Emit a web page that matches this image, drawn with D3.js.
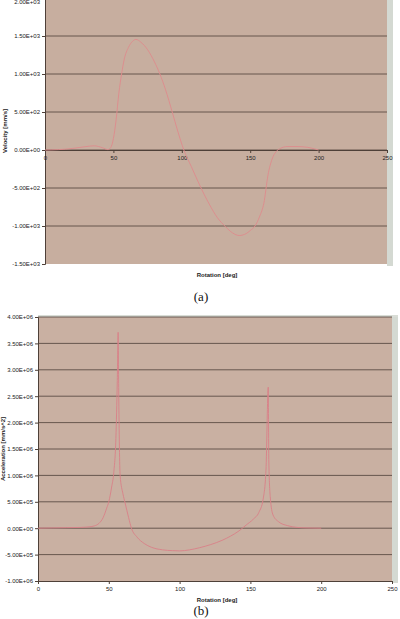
<!DOCTYPE html>
<html>
<head>
<meta charset="utf-8">
<script src="https://cdn.jsdelivr.net/npm/d3@7"></script>
<style>
  html, body { margin: 0; padding: 0; background: #fff; }
  svg { display: block; }
  .tick text { font-family: "Liberation Sans", Arial, sans-serif; }
  .caption { font-family: "Liberation Serif", "Times New Roman", serif; }
</style>
</head>
<body>
<svg id="chart" width="400" height="619"></svg>
<script>
// Velocity / acceleration vs. rotation (two stacked panels)

var xTicks = [0, 50, 100, 150, 200, 250];

// (a) velocity [mm/s]
var velDeg = [0, 10, 20, 30, 36, 42, 46, 48, 50, 52, 54, 56, 58, 61, 64, 66.5, 70, 75, 80, 84, 88, 93, 97, 101.5,
              107, 113, 120, 126, 132, 137, 142, 147, 150, 153.5, 157, 160, 163, 166, 169, 172, 177, 185, 192, 197, 200];
var velVal = [0, 5, 20, 45, 55, 30, 5, 30, 150, 400, 750, 1000, 1200, 1350, 1430, 1455, 1420, 1320, 1160, 1000, 800, 500, 250, 0,
              -220, -460, -710, -890, -1010, -1090, -1125, -1100, -1060, -1000, -870, -700, -330, -120, -20, 20, 45, 45, 35, 15, 0];
var velTicks = [-1500, -1000, -500, 0, 500, 1000, 1500, 2000];

// (b) acceleration [mm/s^2]
var accDeg = [0, 10, 20, 30, 36, 40, 43, 46, 48.5, 50, 52, 53.5, 55, 56, 56.6, 57, 58, 60, 61.5, 64, 66, 70, 75, 80, 88, 95, 100,
              107, 114, 122, 130, 136, 142, 147, 152, 156, 159, 161, 162.6, 163, 164, 166, 170, 176, 183, 190, 200];
var accVal = [0, 5000, 10000, 15000, 25000, 45000, 90000, 200000, 380000, 500000, 780000, 1050000, 1700000, 2800000, 3710000,
              2600000, 1000000, 650000, 480000, 200000, 0, -170000, -290000, -360000, -410000, -425000, -430000,
              -410000, -370000, -310000, -230000, -150000, -50000, 60000, 170000, 300000, 550000, 1100000, 2670000,
              1300000, 600000, 250000, 120000, 50000, 15000, 5000, 0];
var accTicks = [-1000000, -500000, 0, 500000, 1000000, 1500000, 2000000, 2500000, 3000000, 3500000, 4000000];

var svg = d3.select("#chart");
var sci = function (v) {
  var s = v.toExponential(2).toUpperCase();          // 1.50E+3
  return s.replace(/E([+-])(\d)$/, "E$10$2");         // 1.50E+03
};

var drawPanel = function (opt) {
  var x = d3.scaleLinear().domain([0, 250]).range([opt.left, opt.right]);
  var y = d3.scaleLinear().domain(opt.yDomain).range([opt.bottom, opt.top]);
  var g = svg.append("g");

  // frame strips round the plot
  g.append("rect").attr("x", opt.right).attr("y", opt.top - 2)
    .attr("width", 6).attr("height", opt.bottom - opt.top + 4).attr("fill", "#d4d9d2");
  if (opt.top > 0)
    g.append("rect").attr("x", opt.left).attr("y", opt.top - 2)
      .attr("width", opt.right - opt.left + 6).attr("height", 2).attr("fill", "#d9ddd6");

  g.append("rect").attr("x", opt.left).attr("y", Math.max(opt.top, 0))
    .attr("width", opt.right - opt.left).attr("height", opt.bottom - Math.max(opt.top, 0))
    .attr("fill", opt.bg);

  // horizontal gridlines
  g.selectAll("line.grid").data(opt.yTicks.filter(function (d) { return d !== opt.yDomain[0]; }))
    .enter().append("line").attr("class", "grid")
    .attr("x1", opt.left).attr("x2", opt.right)
    .attr("y1", function (d) { return y(d); }).attr("y2", function (d) { return y(d); })
    .attr("stroke", "#4e4038").attr("stroke-width", 0.8);

  // y axis
  var ya = g.append("g").attr("transform", "translate(" + opt.left + ",0)")
    .call(d3.axisLeft(y).tickValues(opt.yTicks).tickFormat(sci).tickSize(3).tickPadding(2));
  ya.select(".domain").attr("stroke", "#4e4038");
  ya.selectAll(".tick line").attr("stroke", "#4e4038");
  ya.selectAll(".tick text").attr("font-size", 6).attr("fill", "#222");
  // keep a label that would fall off the top edge just inside it
  ya.selectAll(".tick text").filter(function (d) { return y(d) < 3; })
    .attr("dy", function (d) { return (3.5 - y(d)) + "px"; });

  // x axis (on the zero line)
  var xa = g.append("g").attr("transform", "translate(0," + y(opt.xAxisAt) + ")")
    .call(d3.axisBottom(x).tickValues(xTicks).tickSize(3).tickPadding(3));
  xa.select(".domain").attr("stroke", "#4e4038");
  xa.selectAll(".tick line").attr("stroke", "#4e4038");
  xa.selectAll(".tick text").attr("font-size", 6).attr("fill", "#222");

  // the curve
  var line = d3.line()
    .x(function (d) { return x(d[0]); })
    .y(function (d) { return y(d[1]); })
    .curve(d3.curveMonotoneX);
  g.append("path").datum(d3.zip(opt.xs, opt.ys))
    .attr("d", line).attr("fill", "none")
    .attr("stroke", opt.lineColor).attr("stroke-width", 0.9);

  // axis titles
  g.append("text").attr("x", opt.xTitle[0]).attr("y", opt.xTitle[1])
    .attr("text-anchor", "middle").attr("font-family", "Liberation Sans, Arial, sans-serif")
    .attr("font-size", 6).attr("font-weight", "bold").attr("fill", "#222").text("Rotation [deg]");
  g.append("text")
    .attr("transform", "translate(" + opt.yTitle[0] + "," + opt.yTitle[1] + ") rotate(-90)")
    .attr("text-anchor", "middle").attr("font-family", "Liberation Sans, Arial, sans-serif")
    .attr("font-size", 6).attr("font-weight", "bold").attr("fill", "#222").text(opt.yLabel);

  svg.append("text").attr("class", "caption").attr("x", opt.caption[0]).attr("y", opt.caption[1])
    .attr("text-anchor", "middle").attr("font-size", 13).attr("fill", "#111").text(opt.captionText);
};

drawPanel({
  left: 45, right: 387, top: -2, bottom: 264,
  yDomain: [-1500, 2000], yTicks: velTicks, xAxisAt: 0,
  xs: velDeg, ys: velVal, bg: "#c7ae9f", lineColor: "#df8a8c",
  yLabel: "Velocity [mm/s]", xTitle: [217, 277], yTitle: [7, 131],
  caption: [201, 301], captionText: "(a)"
});

drawPanel({
  left: 38, right: 392, top: 317, bottom: 581,
  yDomain: [-1000000, 4000000], yTicks: accTicks, xAxisAt: -1000000,
  xs: accDeg, ys: accVal, bg: "#c9b0a2", lineColor: "#d98088",
  yLabel: "Acceleration [mm/s^2]", xTitle: [217, 602], yTitle: [5, 449],
  caption: [201, 615], captionText: "(b)"
});
</script>
</body>
</html>
